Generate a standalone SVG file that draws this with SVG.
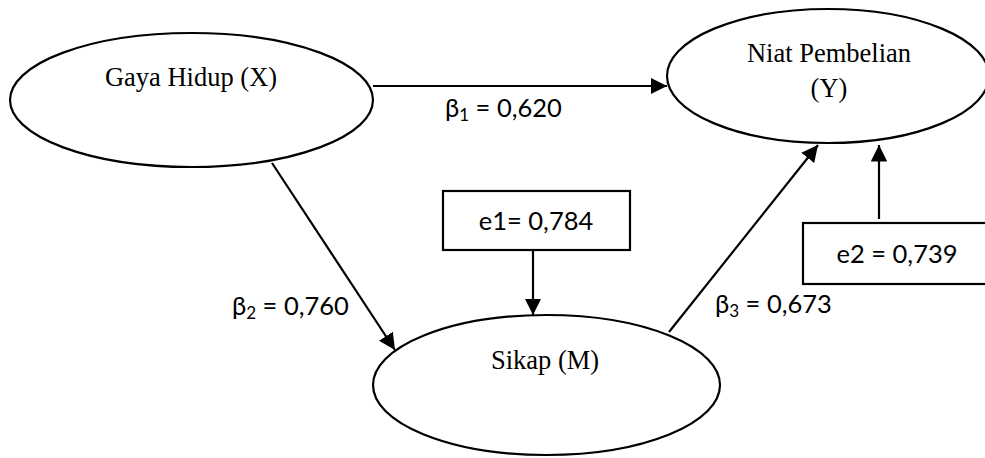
<svg xmlns="http://www.w3.org/2000/svg" width="985" height="458" viewBox="0 0 985 458">
<style>
.n{fill:#fff;stroke:#000;stroke-width:2.2}
.t{font-family:"Liberation Serif","Times New Roman",serif;font-size:26.5px;fill:#000;text-anchor:middle}
.l{font-family:Lato,"Open Sans",sans-serif;font-size:25.5px;fill:#000}
.s{font-size:17px}
.c{stroke:#000;stroke-width:2.2;fill:none}
</style>
<defs>
<marker id="ah" viewBox="0 0 10 10" refX="10" refY="5" markerWidth="7.5" markerHeight="7.5" markerUnits="strokeWidth" orient="auto">
<path d="M0,0 L10,5 L0,10 z" fill="#000"/>
</marker>
</defs>
<rect width="985" height="458" fill="#fff"/>
<g id="connectors">
<line class="c" x1="373" y1="86" x2="667" y2="86" marker-end="url(#ah)"/>
<line class="c" x1="272" y1="163" x2="395" y2="350" marker-end="url(#ah)"/>
<line class="c" x1="533" y1="250" x2="533" y2="315" marker-end="url(#ah)"/>
<line class="c" x1="669" y1="332" x2="818" y2="145" marker-end="url(#ah)"/>
<line class="c" x1="879" y1="219" x2="879" y2="145" marker-end="url(#ah)"/>
</g>
<g id="node-x">
<ellipse class="n" cx="191.5" cy="100" rx="181.5" ry="67"/>
<text class="t" x="191" y="86">Gaya Hidup (X)</text>
</g>
<g id="node-y">
<ellipse class="n" cx="828" cy="76" rx="161" ry="67"/>
<text class="t" x="829" y="62">Niat Pembelian</text>
<text class="t" x="829" y="97">(Y)</text>
</g>
<g id="node-m">
<ellipse class="n" cx="546.5" cy="385" rx="173.5" ry="70"/>
<text class="t" x="545" y="369">Sikap (M)</text>
</g>
<g id="node-e1">
<rect class="n" x="443" y="191" width="187" height="59"/>
<text class="l" x="536" y="230" text-anchor="middle">e1= 0,784</text>
</g>
<g id="node-e2">
<rect class="n" x="803" y="223" width="190" height="61"/>
<text class="l" x="897" y="263" text-anchor="middle">e2 = 0,739</text>
</g>
<g id="labels">
<text class="l" x="445" y="117">β<tspan class="s" dy="4">1</tspan><tspan dy="-4"> = 0,620</tspan></text>
<text class="l" x="232" y="315">β<tspan class="s" dy="4">2</tspan><tspan dy="-4"> = 0,760</tspan></text>
<text class="l" x="715" y="313">β<tspan class="s" dy="4">3</tspan><tspan dy="-4"> = 0,673</tspan></text>
</g>
</svg>
